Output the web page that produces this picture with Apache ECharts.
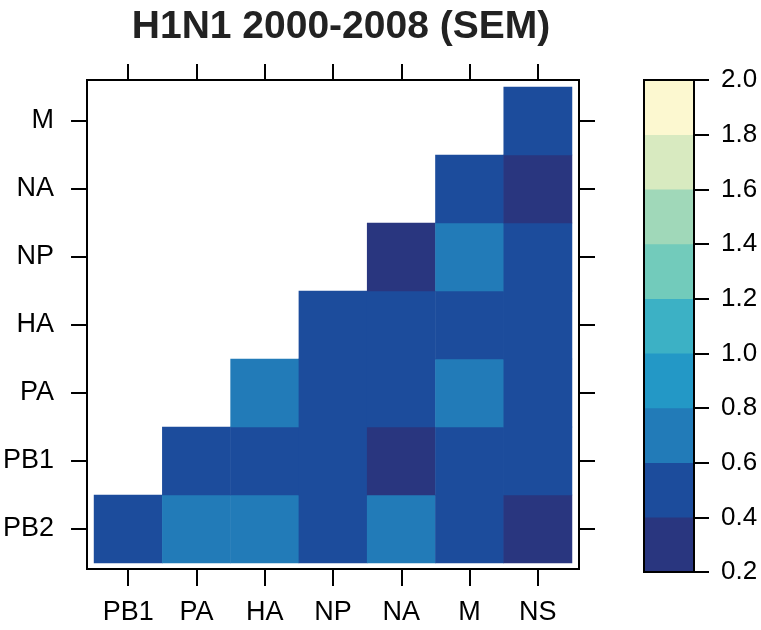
<!DOCTYPE html>
<html>
<head>
<meta charset="utf-8">
<script src="https://cdn.jsdelivr.net/npm/echarts@6/dist/echarts.min.js"></script>
<style>
  html, body { margin: 0; padding: 0; background: #fff; }
  #main { width: 761px; height: 630px; }
</style>
</head>
<body>
<div id="main"></div>
<script>
// segments, bottom row first on the y axis
var xCats = ['PB1', 'PA', 'HA', 'NP', 'NA', 'M', 'NS'];
var yCats = ['PB2', 'PB1', 'PA', 'HA', 'NP', 'NA', 'M'];

// SEM per pair, one array per row (null = not drawn)
var semPB2 = [0.50, 0.70, 0.70, 0.50, 0.70, 0.50, 0.35];
var semPB1 = [null, 0.50, 0.50, 0.50, 0.35, 0.50, 0.50];
var semPA  = [null, null, 0.70, 0.50, 0.50, 0.70, 0.50];
var semHA  = [null, null, null, 0.50, 0.50, 0.50, 0.50];
var semNP  = [null, null, null, null, 0.35, 0.70, 0.50];
var semNA  = [null, null, null, null, null, 0.50, 0.35];
var semM   = [null, null, null, null, null, null, 0.50];

// colour key
var breaks = [0.2, 0.4, 0.6, 0.8, 1.0, 1.2, 1.4, 1.6, 1.8, 2.0];
var binColors = ['#29367f', '#1c4c9c', '#227bb8', '#2398c6', '#3cb1c5',
                 '#72cbbb', '#a0d8b9', '#d8eac0', '#fcf8d0'];

var rows = [semPB2, semPB1, semPA, semHA, semNP, semNA, semM];
var cells = [];
rows.forEach(function (row, yi) {
    row.forEach(function (v, xi) {
        if (v !== null) cells.push([xi, yi, v]);
    });
});

var binNames = [];
var keyCells = [];
var pieces = [];
for (var i = 0; i < binColors.length; i++) {
    binNames.push(String(i));
    keyCells.push([0, i, (breaks[i] + breaks[i + 1]) / 2]);
    pieces.push({ gte: breaks[i], lt: breaks[i + 1], color: binColors[i] });
}

var font = 'Liberation Sans';
var tickStyle = { color: '#000', width: 2 };
var hiddenLine = { show: true, lineStyle: { color: 'rgba(0,0,0,0)' } };

function catTicks() {
    return { show: true, alignWithLabel: true, length: 16, lineStyle: tickStyle };
}

var chart = echarts.init(document.getElementById('main'));
chart.setOption({
    animation: false,
    backgroundColor: '#fff',
    textStyle: { fontFamily: font },
    title: {
        text: 'H1N1 2000-2008 (SEM)',
        left: 336,
        textAlign: 'center',
        top: 3,
        textStyle: { fontFamily: font, fontSize: 39, fontWeight: 'bold', color: '#222' }
    },
    graphic: [{
        type: 'rect',
        shape: { x: 87, y: 80, width: 492, height: 489 },
        style: { fill: 'none', stroke: '#000', lineWidth: 2 },
        z: 10
    }],
    visualMap: {
        type: 'piecewise',
        show: false,
        pieces: pieces,
        seriesIndex: [0, 1]
    },
    grid: [
        { left: 93, top: 87, width: 479, height: 476 },
        { left: 644, top: 80, width: 50, height: 492, show: true,
          borderColor: '#000', borderWidth: 2, backgroundColor: 'transparent', z: 5 }
    ],
    xAxis: [
        { type: 'category', gridIndex: 0, data: xCats, position: 'bottom', offset: 7,
          axisLine: hiddenLine, axisTick: catTicks(),
          axisLabel: { fontSize: 27, color: '#000', margin: 29 },
          splitLine: { show: false } },
        { type: 'category', gridIndex: 0, data: xCats, position: 'top', offset: 7,
          axisLine: hiddenLine, axisTick: catTicks(),
          axisLabel: { show: false } },
        { type: 'category', gridIndex: 1, data: [''], show: false }
    ],
    yAxis: [
        { type: 'category', gridIndex: 0, data: yCats, position: 'left', offset: 7,
          axisLine: hiddenLine, axisTick: catTicks(),
          axisLabel: { fontSize: 27, color: '#000', margin: 33 },
          splitLine: { show: false } },
        { type: 'category', gridIndex: 0, data: yCats, position: 'right', offset: 7,
          axisLine: hiddenLine, axisTick: catTicks(),
          axisLabel: { show: false } },
        { type: 'category', gridIndex: 1, data: binNames, show: false },
        { type: 'value', gridIndex: 1, position: 'right', min: 0.2, max: 2.0, interval: 0.2,
          axisLine: { show: false },
          axisTick: { show: true, length: 15, lineStyle: tickStyle },
          axisLabel: { fontSize: 26, color: '#000', margin: 27,
                       formatter: function (v) { return v.toFixed(1); } },
          splitLine: { show: false } }
    ],
    series: [
        { type: 'heatmap', xAxisIndex: 0, yAxisIndex: 0, data: cells,
          itemStyle: { borderWidth: 0 }, emphasis: { disabled: true } },
        { type: 'heatmap', xAxisIndex: 2, yAxisIndex: 2, data: keyCells,
          itemStyle: { borderWidth: 0 }, emphasis: { disabled: true } }
    ]
});
</script>
</body>
</html>
